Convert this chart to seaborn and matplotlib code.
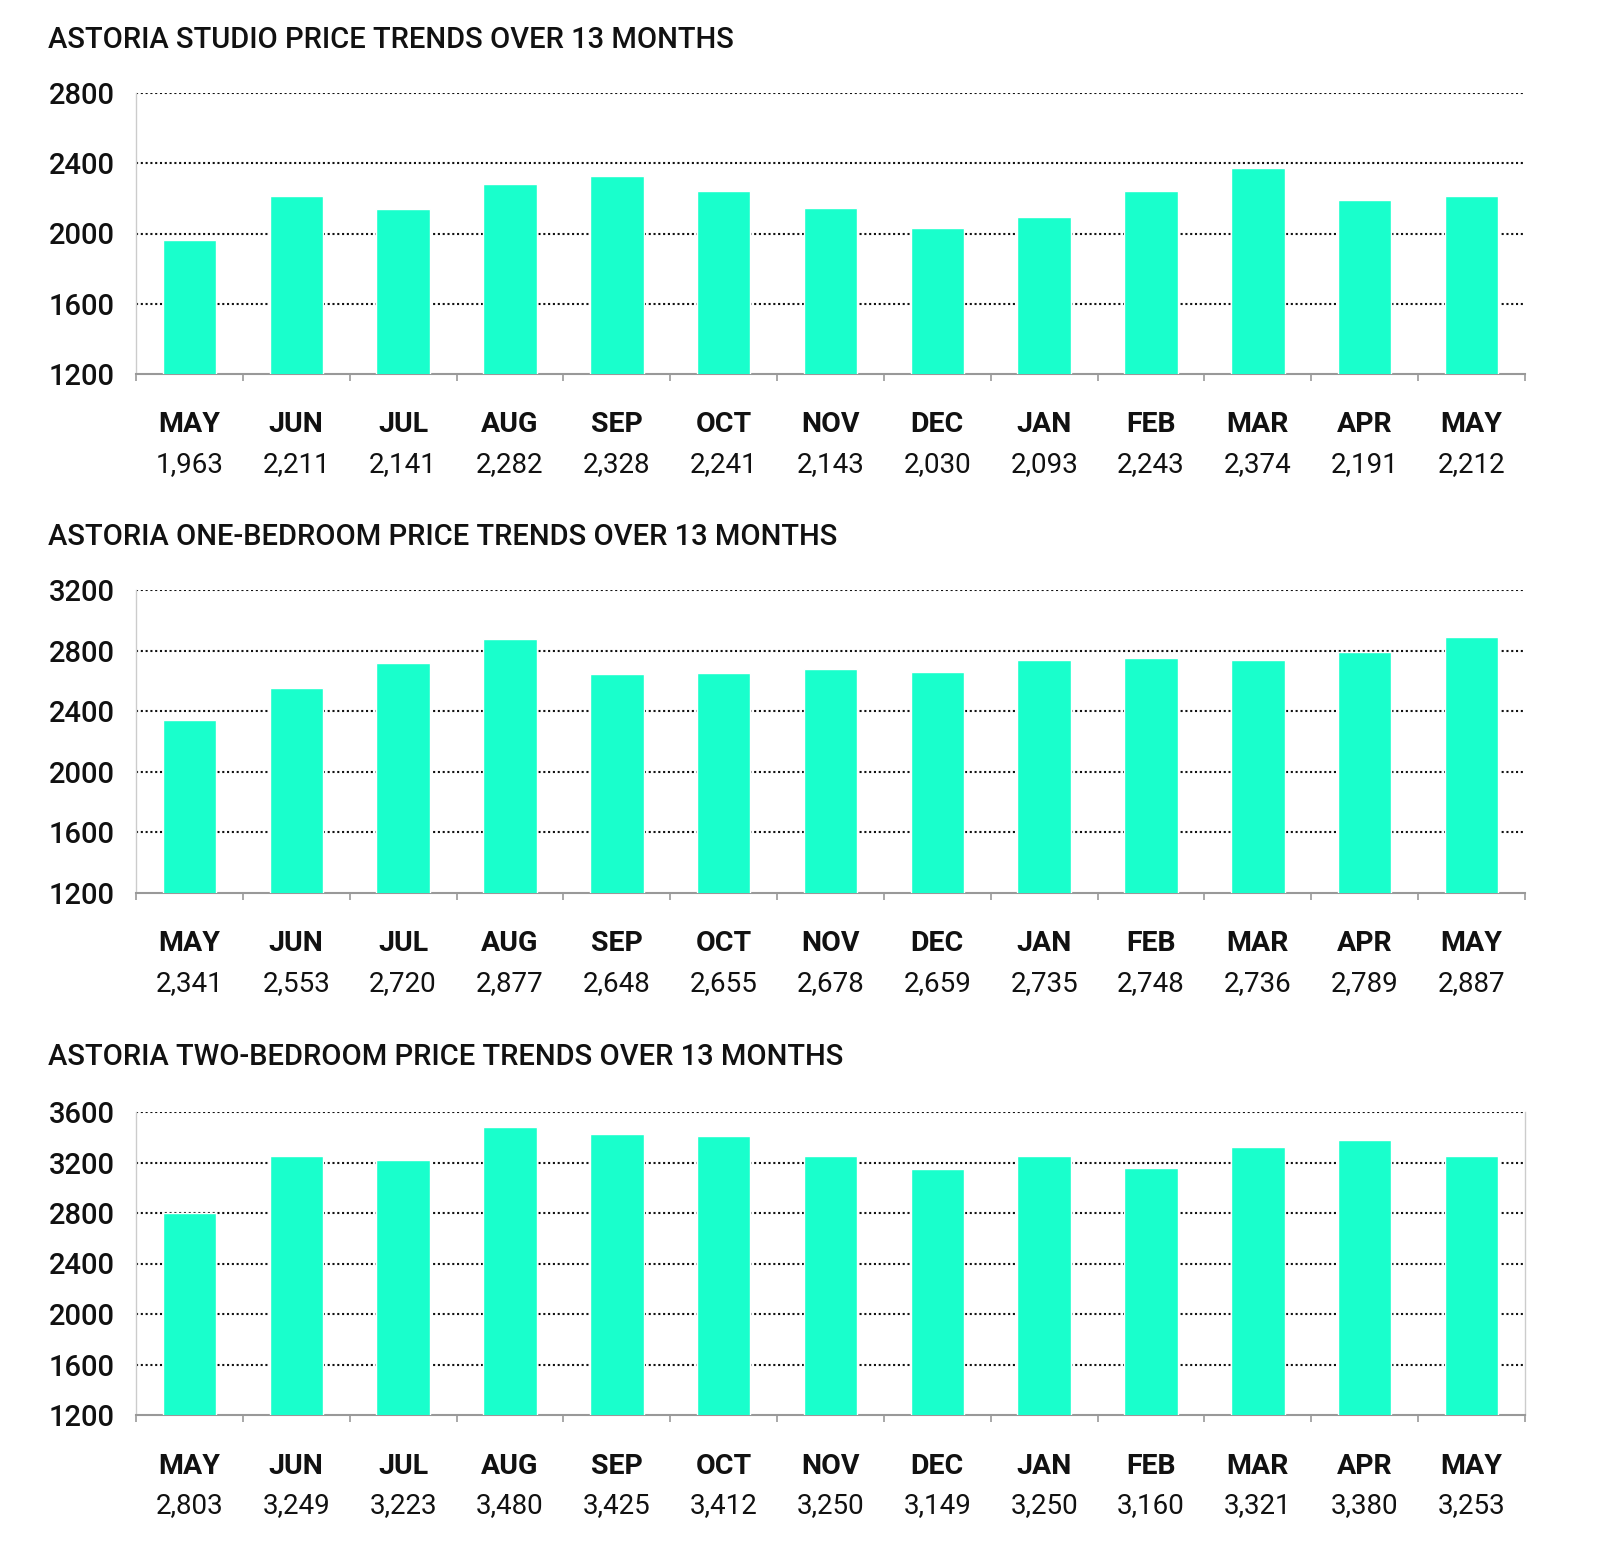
import matplotlib
matplotlib.use("Agg")
import matplotlib.pyplot as plt
import seaborn as sns
import pandas as pd
from matplotlib.ticker import FixedLocator

months = ["MAY", "JUN", "JUL", "AUG", "SEP", "OCT", "NOV", "DEC", "JAN", "FEB", "MAR", "APR", "MAY"]
studio = [1963, 2211, 2141, 2282, 2328, 2241, 2143, 2030, 2093, 2243, 2374, 2191, 2212]
one_bed = [2341, 2553, 2720, 2877, 2648, 2655, 2678, 2659, 2735, 2748, 2736, 2789, 2887]
two_bed = [2803, 3249, 3223, 3480, 3425, 3412, 3250, 3149, 3250, 3160, 3321, 3380, 3253]

titles = ["ASTORIA STUDIO PRICE TRENDS OVER 13 MONTHS",
          "ASTORIA ONE-BEDROOM PRICE TRENDS OVER 13 MONTHS",
          "ASTORIA TWO-BEDROOM PRICE TRENDS OVER 13 MONTHS"]
yticks = [[1200, 1600, 2000, 2400, 2800],
          [1200, 1600, 2000, 2400, 2800, 3200],
          [1200, 1600, 2000, 2400, 2800, 3200, 3600]]

sns.set_theme(style="white")
plt.rcParams['font.family'] = ['Roboto', 'DejaVu Sans']

W, H = 1600, 1566
fig = plt.figure(figsize=(W / 100, H / 100), dpi=100)

bar_color = "#19FFCC"
# (axes top px, axes bottom px, title y px)
layout = [(93, 374, 40), (590, 893, 537), (1112, 1415, 1057)]
left_px, right_px = 136, 1525

for k, (vals, title, yt, (top, bot, ty)) in enumerate(zip([studio, one_bed, two_bed], titles, yticks, layout)):
    ax = fig.add_axes([left_px / W, 1 - bot / H, (right_px - left_px) / W, (bot - top) / H])
    df = pd.DataFrame({"idx": list(range(len(months))), "value": vals})
    sns.barplot(data=df, x="idx", y="value", color=bar_color, saturation=1, width=0.5, ax=ax, zorder=3)
    ax.set_xlim(-0.5, len(months) - 0.5)
    ax.set_ylim(yt[0], yt[-1])
    ax.set_yticks(yt)
    ax.set_yticklabels([str(v) for v in yt], fontsize=21, fontweight="medium", color="#111111")
    for lbl in ax.get_yticklabels():
        lbl.set_horizontalalignment("left")
    ax.tick_params(axis="y", length=0, pad=63)
    ax.set_xlabel("")
    ax.set_ylabel("")
    ax.set_xticks(range(len(months)))
    ax.set_xticklabels([])
    ax.tick_params(axis="x", which="major", length=0)
    ax.xaxis.set_minor_locator(FixedLocator([i - 0.5 for i in range(len(months) + 1)]))
    ax.tick_params(axis="x", which="minor", length=5, width=1.2, color="#999999", bottom=True, direction="out")
    for yv in yt[1:]:
        ax.axhline(yv, color="#111111", linestyle=(0, (1, 1.3)), linewidth=1.5, zorder=1)
    ax.spines["top"].set_visible(False)
    ax.spines["left"].set_color("#cccccc")
    ax.spines["left"].set_linewidth(1)
    ax.spines["bottom"].set_color("#999999")
    ax.spines["bottom"].set_linewidth(1.5)
    if k == 2:
        ax.spines["right"].set_visible(True)
        ax.spines["right"].set_color("#cccccc")
        ax.spines["right"].set_linewidth(1)
    else:
        ax.spines["right"].set_visible(False)
    tr = ax.get_xaxis_transform()
    for i, (m, v) in enumerate(zip(months, vals)):
        ax.annotate(m, xy=(i, 0), xycoords=tr, xytext=(0, -51), textcoords="offset pixels",
                    ha="center", va="center", fontsize=20.5, fontweight="bold", color="#111111")
        ax.annotate(f"{v:,}", xy=(i, 0), xycoords=tr, xytext=(0, -91), textcoords="offset pixels",
                    ha="center", va="center", fontsize=20, fontweight="normal", color="#111111")
    fig.text(48 / W, 1 - ty / H, title, ha="left", va="center", fontsize=21, fontweight="medium", color="#111111")

fig.savefig("out.png", dpi=100, facecolor="white")
